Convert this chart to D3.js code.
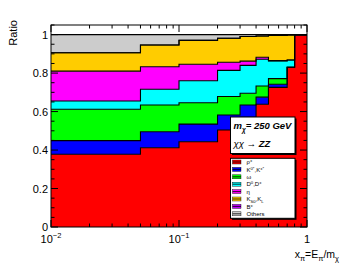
<!DOCTYPE html>
<html>
<head>
<meta charset="utf-8">
<script src="https://cdn.jsdelivr.net/npm/d3@7"></script>
<style>
  body { margin: 0; background: #fff; }
  svg { display: block; font-family: "Liberation Sans", Arial, sans-serif; }
</style>
</head>
<body>
<div id="chart"></div>
<script>
// bin edges in x_pi (log axis)
const binEdges = [0.01, 0.05, 0.1, 0.2, 0.3, 0.4, 0.5, 0.7, 0.8, 1.0];

// fraction of each species per bin (stacked bottom -> top)
const rho    = [0.378, 0.412, 0.443, 0.504, 0.570, 0.638, 0.726, 0.830, 1.000];
const kstar  = [0.071, 0.083, 0.092, 0.078, 0.064, 0.037, 0.016, 0.000, 0.000];
const omega  = [0.163, 0.139, 0.111, 0.096, 0.061, 0.058, 0.029, 0.000, 0.000];
const dmeson = [0.043, 0.082, 0.114, 0.136, 0.145, 0.139, 0.092, 0.038, 0.000];
const eta    = [0.155, 0.117, 0.086, 0.042, 0.022, 0.010, 0.002, 0.000, 0.000];
const kzero  = [0.096, 0.113, 0.124, 0.125, 0.128, 0.111, 0.131, 0.130, 0.000];
const bmeson = [0, 0, 0, 0, 0, 0, 0, 0, 0];
const others = [0.094, 0.054, 0.030, 0.019, 0.010, 0.007, 0.004, 0.002, 0.000];

const seriesKeys = ["rho", "kstar", "omega", "dmeson", "eta", "kzero", "bmeson", "others"];
const seriesColors = ["#ff0000", "#0000ff", "#00ff00", "#00ffff", "#ff00ff", "#ffcc00", "#c000ff", "#cccccc"];

const yTicks = [0, 0.2, 0.4, 0.6, 0.8, 1];
const xMajor = [0.01, 0.1, 1];
const xTickLabels = [["10", "\u22122"], ["10", "\u22121"], ["1", ""]];

const width = 341, height = 264;
const frame = { left: 51, right: 307, top: 25, bottom: 227 };

const svg = d3.select("#chart").append("svg")
  .attr("width", width)
  .attr("height", height);

const x = d3.scaleLog().domain([0.01, 1]).range([frame.left, frame.right]);
const y = d3.scaleLinear().domain([0, 1.05]).range([frame.bottom, frame.top]);

// table for the stack
const values = { rho, kstar, omega, dmeson, eta, kzero, bmeson, others };
const table = binEdges.slice(0, -1).map((e, i) => {
  const row = { x0: e, x1: binEdges[i + 1] };
  seriesKeys.forEach(k => row[k] = values[k][i]);
  return row;
});

const stacked = d3.stack().keys(seriesKeys)(table);

// extend each series with the last edge so the step closes at the right
function stepPoints(s) {
  const pts = s.map(d => ({ x: d.data.x0, y0: d[0], y1: d[1] }));
  const last = s[s.length - 1];
  pts.push({ x: last.data.x1, y0: last[0], y1: last[1] });
  return pts;
}

const area = d3.area()
  .curve(d3.curveStepAfter)
  .x(d => x(d.x))
  .y0(d => y(d.y0))
  .y1(d => y(d.y1));

const topLine = d3.line()
  .curve(d3.curveStepAfter)
  .x(d => x(d.x))
  .y(d => y(d.y1));

const plot = svg.append("g");

plot.selectAll("path.fill")
  .data(stacked)
  .join("path")
  .attr("class", "fill")
  .attr("d", s => area(stepPoints(s)))
  .attr("fill", (s, i) => seriesColors[i]);

plot.selectAll("path.edge")
  .data(stacked)
  .join("path")
  .attr("class", "edge")
  .attr("d", s => topLine(stepPoints(s)))
  .attr("fill", "none")
  .attr("stroke", "#000")
  .attr("stroke-width", 1.1);

// ===== frame + ticks (ROOT style, ticks inside on all sides) =====
const axes = svg.append("g").attr("stroke", "#000").attr("stroke-width", 1);

axes.append("rect")
  .attr("x", frame.left).attr("y", frame.top)
  .attr("width", frame.right - frame.left)
  .attr("height", frame.bottom - frame.top)
  .attr("fill", "none");

const yMinor = d3.range(0, 1.0501, 0.05);
yMinor.forEach(v => {
  const major = Math.abs(v * 5 - Math.round(v * 5)) < 1e-6;
  const len = major ? 7 : 3.5;
  axes.append("line").attr("x1", frame.left).attr("x2", frame.left + len)
    .attr("y1", y(v)).attr("y2", y(v));
  axes.append("line").attr("x1", frame.right).attr("x2", frame.right - len)
    .attr("y1", y(v)).attr("y2", y(v));
});

const xMinor = [];
[0.01, 0.1].forEach(dec => { for (let m = 2; m <= 9; m++) xMinor.push(dec * m); });
xMinor.forEach(v => {
  axes.append("line").attr("x1", x(v)).attr("x2", x(v))
    .attr("y1", frame.bottom).attr("y2", frame.bottom - 3.5);
  axes.append("line").attr("x1", x(v)).attr("x2", x(v))
    .attr("y1", frame.top).attr("y2", frame.top + 3.5);
});
xMajor.forEach(v => {
  axes.append("line").attr("x1", x(v)).attr("x2", x(v))
    .attr("y1", frame.bottom).attr("y2", frame.bottom - 7);
  axes.append("line").attr("x1", x(v)).attr("x2", x(v))
    .attr("y1", frame.top).attr("y2", frame.top + 7);
});

// y tick labels
svg.append("g").selectAll("text")
  .data(yTicks)
  .join("text")
  .attr("x", frame.left - 3)
  .attr("y", d => y(d) + 4)
  .attr("text-anchor", "end")
  .attr("font-size", "11px")
  .attr("fill", "#000")
  .text(d => d === 0 || d === 1 ? d : d.toFixed(1));

// x tick labels with superscripts
const xl = svg.append("g").selectAll("text")
  .data(xMajor)
  .join("text")
  .attr("x", d => x(d))
  .attr("y", 243)
  .attr("text-anchor", "middle")
  .attr("font-size", "11px")
  .attr("fill", "#000");
xl.append("tspan").text((d, i) => xTickLabels[i][0]);
xl.append("tspan")
  .attr("dy", -5)
  .attr("font-size", "7.5px")
  .text((d, i) => xTickLabels[i][1]);

// axis titles
svg.append("text")
  .attr("transform", "translate(17,20) rotate(-90)")
  .attr("text-anchor", "end")
  .attr("font-size", "11px")
  .text("Ratio");

const xt = svg.append("text")
  .attr("x", 339).attr("y", 258)
  .attr("text-anchor", "end")
  .attr("font-size", "10.5px");
xt.append("tspan").text("x");
xt.append("tspan").attr("dy", 2.5).attr("font-size", "7.5px").text("\u03c0");
xt.append("tspan").attr("dy", -2.5).text("=E");
xt.append("tspan").attr("dy", 2.5).attr("font-size", "7.5px").text("\u03c0");
xt.append("tspan").attr("dy", -2.5).text("/m");
xt.append("tspan").attr("dy", 2.5).attr("font-size", "7.5px").text("\u03c7");

// ===== text box =====
const tb = svg.append("g");
tb.append("rect").attr("x", 232).attr("y", 118.5).attr("width", 64.5).attr("height", 36.5).attr("fill", "#000");
tb.append("rect").attr("x", 230.5).attr("y", 117).attr("width", 64.5).attr("height", 36.5)
  .attr("fill", "#fff").attr("stroke", "#000").attr("stroke-width", 1);
const t1 = tb.append("text").attr("x", 233.5).attr("y", 129)
  .attr("font-size", "9.5px").attr("font-weight", "bold").attr("font-style", "italic");
t1.append("tspan").text("m");
t1.append("tspan").attr("dy", 2.5).attr("font-size", "6.5px").text("\u03c7");
t1.append("tspan").attr("dy", -2.5).text("= 250 GeV");
const t2 = tb.append("text").attr("x", 233.5).attr("y", 147).attr("font-size", "9.5px");
t2.append("tspan").attr("font-style", "italic").text("\u03c7\u03c7");
t2.append("tspan").text(" \u2192 ");
t2.append("tspan").attr("font-weight", "bold").attr("font-style", "italic").text("ZZ");

// ===== legend =====
const legendLabels = [
  ["\u03c1", "\u00b1", ""],
  ["K", "0*", ",K", "\u00b1*"],
  ["\u03c9"],
  ["D", "0", ",D", "\u00b1"],
  ["\u03b7"],
  ["K", "S0", ",K", "L"],
  ["B", "\u00b1"],
  ["Others"]
];
const lg = svg.append("g");
lg.append("rect").attr("x", 232).attr("y", 159.8).attr("width", 64.5).attr("height", 60).attr("fill", "#000");
lg.append("rect").attr("x", 230.5).attr("y", 158.3).attr("width", 64.5).attr("height", 60)
  .attr("fill", "#fff").attr("stroke", "#000").attr("stroke-width", 1);

const rowY = i => 162 + i * 7.4;
seriesColors.forEach((c, i) => {
  lg.append("rect").attr("x", 232.5).attr("y", rowY(i) - 2).attr("width", 8.5).attr("height", 4)
    .attr("fill", c).attr("stroke", "#000").attr("stroke-width", 0.4);
  lg.append("line").attr("x1", 232.5).attr("x2", 241).attr("y1", rowY(i)).attr("y2", rowY(i))
    .attr("stroke", "#000").attr("stroke-width", 0.8);
  const t = lg.append("text").attr("x", 246.5).attr("y", rowY(i) + 2.2).attr("font-size", "6px");
  const parts = legendLabels[i];
  parts.forEach((p, j) => {
    if (j % 2 === 0) {
      t.append("tspan").attr("dy", j === 0 ? 0 : (i === 5 ? -1.5 : 2)).attr("font-size", "6px").text(p);
    } else {
      const sub = i === 5;
      t.append("tspan").attr("dy", sub ? 1.5 : -2).attr("font-size", "4.2px").text(p);
    }
  });
});
</script>
</body>
</html>
